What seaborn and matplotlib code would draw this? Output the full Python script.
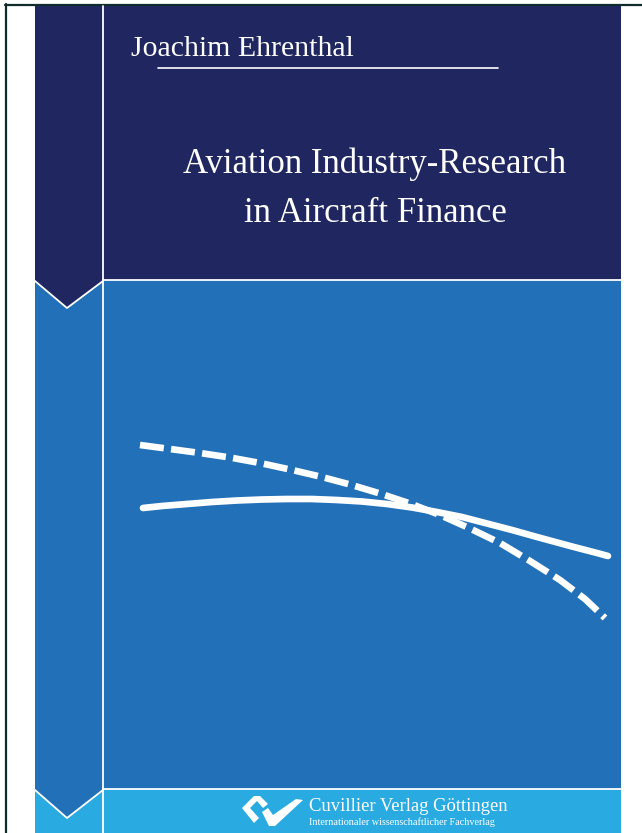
"""Book cover: Aviation Industry-Research in Aircraft Finance."""

import matplotlib.pyplot as plt
import pandas as pd
import seaborn as sns
from matplotlib.patches import Polygon, Rectangle

# curves (y grows downward)
DASHED_X = [140, 170, 200, 230, 260, 290, 320, 350, 380, 410, 440, 470, 500, 530, 560, 585, 605]
DASHED_Y = [445, 449, 453, 457.5, 463, 469.5, 476.5, 484.5, 493.5, 503.5, 515, 528.5, 543, 561, 580, 599, 618]
SOLID_X = [143, 162, 187, 212, 237, 262, 287, 312, 337, 362, 387, 412, 437, 462, 487, 512, 537, 572, 597, 608]
SOLID_Y = [508, 506, 504, 502, 500.5, 499.5, 499, 499, 500, 501.5, 504, 507.5, 512, 517, 523.5, 530, 537, 546.5, 553, 556]

AUTHOR = "Joachim Ehrenthal"
TITLE_LINES = ["Aviation Industry-Research", "in Aircraft Finance"]
PUBLISHER = "Cuvillier Verlag Göttingen"
PUBLISHER_SUB = "Internationaler wissenschaftlicher Fachverlag"

NAVY = "#1f2660"
BLUE = "#2270b8"
LIGHT_BLUE = "#29abe2"
FRAME = "#0f2b2b"
W, H = 642, 833


def patch(ax, artist):
    artist.set_linewidth(0)
    ax.add_patch(artist)


def draw_background(ax):
    # outer frame
    patch(ax, Rectangle((0, 0), W, H, color="white", zorder=0))
    ax.plot([6, 6], [4, H], color=FRAME, lw=1.6, zorder=1)
    ax.plot([5, W], [5, 5], color=FRAME, lw=1.6, zorder=1)

    # main panels
    patch(ax, Rectangle((35, 6), 586, 274, color=NAVY, zorder=1))
    patch(ax, Rectangle((35, 280), 586, 509, color=BLUE, zorder=1))
    patch(ax, Rectangle((35, 789), 586, H - 789, color=LIGHT_BLUE, zorder=1))

    # left strip chevrons
    patch(ax, Polygon([(35, 270), (103, 270), (103, 281), (67, 308), (35, 281)],
                      color=NAVY, zorder=1.5))
    patch(ax, Polygon([(35, 780), (103, 780), (103, 790), (67, 818), (35, 790)],
                      color=BLUE, zorder=1.5))

    # white separators
    lw = 1.3
    ax.plot([103, 103], [6, H], color="white", lw=lw, zorder=2)
    ax.plot([103, 621], [279.5, 279.5], color="white", lw=lw, zorder=2)
    ax.plot([103, 621], [789, 789], color="white", lw=lw, zorder=2)
    ax.plot([35, 67, 103], [281, 308, 281], color="white", lw=lw, zorder=2)
    ax.plot([35, 67, 103], [790, 818, 790], color="white", lw=lw, zorder=2)

    # author underline
    ax.plot([158, 498], [68, 68], color="white", lw=1.2, zorder=2)


def draw_logo(ax):
    left = [(242, 808), (254, 796), (260, 796), (268, 804), (263, 808),
            (257, 801), (250, 808), (259, 818), (254, 823)]
    right = [(262, 812), (268, 808), (273, 815), (296, 799), (303, 800),
             (275, 826), (269, 826)]
    patch(ax, Polygon(left, color="white", zorder=3))
    patch(ax, Polygon(right, color="white", zorder=3))


def main():
    sns.set_theme(style="white")
    plt.rcParams["font.family"] = ["Liberation Serif", "DejaVu Serif"]

    fig = plt.figure(figsize=(W / 100, H / 100), dpi=100)
    ax = fig.add_axes([0, 0, 1, 1])

    draw_background(ax)

    curves = pd.concat([
        pd.DataFrame({"x": DASHED_X, "y": DASHED_Y, "curve": "dashed"}),
        pd.DataFrame({"x": SOLID_X, "y": SOLID_Y, "curve": "solid"}),
    ], ignore_index=True)
    sns.lineplot(
        data=curves, x="x", y="y", style="curve",
        dashes={"dashed": (3.6, 1.1), "solid": ""},
        color="white", linewidth=4.8, sort=False, estimator=None,
        legend=False, ax=ax, zorder=4,
    )
    ax.set_xlim(0, W)
    ax.set_ylim(H, 0)
    ax.axis("off")

    ax.text(131, 56, AUTHOR, color="white", fontsize=21.5, ha="left", va="baseline", zorder=5)
    ax.text(375, 173, TITLE_LINES[0], color="white", fontsize=25, ha="center", va="baseline", zorder=5)
    ax.text(375, 222, TITLE_LINES[1], color="white", fontsize=25, ha="center", va="baseline", zorder=5)

    draw_logo(ax)
    ax.text(309, 811, PUBLISHER, color="white", fontsize=13.4, ha="left", va="baseline", zorder=5)
    ax.text(309, 825, PUBLISHER_SUB, color="white", fontsize=7.3, ha="left", va="baseline", zorder=5)

    fig.savefig("out.png", dpi=100)
    plt.close(fig)


if __name__ == "__main__":
    main()
